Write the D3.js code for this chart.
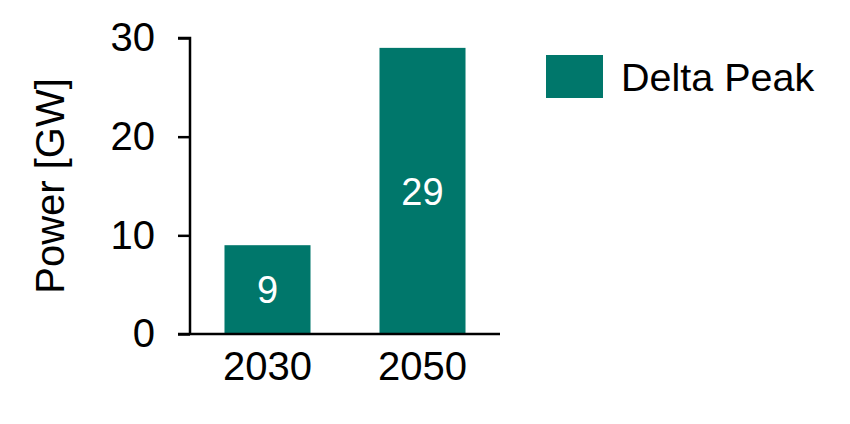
<!DOCTYPE html>
<html>
<head>
<meta charset="utf-8">
<script src="https://cdn.jsdelivr.net/npm/d3@7"></script>
<style>
  html, body { margin: 0; padding: 0; background: #fff; }
  svg { display: block; font-family: Arial, "Liberation Sans", sans-serif; }
</style>
</head>
<body>
<svg id="chart" width="850" height="424"></svg>
<script>
const categories = ["2030", "2050"];
const values = [9, 29];
const seriesName = "Delta Peak";
const yTicks = [0, 10, 20, 30];

const color = "#00776B";
const svg = d3.select("#chart");

const plot = { left: 190, right: 500, top: 38, bottom: 334 };

const x = d3.scaleBand()
  .domain(categories)
  .range([plot.left, plot.right])
  .paddingInner(0.445)
  .paddingOuter(0.2225);

const y = d3.scaleLinear()
  .domain([0, 30])
  .range([plot.bottom, plot.top]);

// bars
svg.append("g").selectAll("rect")
  .data(categories)
  .join("rect")
  .attr("x", d => x(d))
  .attr("width", x.bandwidth())
  .attr("y", (d, i) => y(values[i]))
  .attr("height", (d, i) => y(0) - y(values[i]))
  .attr("fill", color);

// data labels
svg.append("g").selectAll("text")
  .data(categories)
  .join("text")
  .attr("x", d => x(d) + x.bandwidth() / 2)
  .attr("y", (d, i) => (y(values[i]) + y(0)) / 2)
  .attr("dy", "0.36em")
  .attr("text-anchor", "middle")
  .attr("fill", "#fff")
  .attr("font-size", 38)
  .text((d, i) => values[i]);

// y axis
const yAxis = d3.axisLeft(y).tickValues(yTicks).tickSize(12).tickPadding(23);
const gy = svg.append("g").attr("transform", `translate(${plot.left},0)`).call(yAxis);
gy.select(".domain").attr("d", `M-12,${plot.top}H0V${plot.bottom}`).attr("stroke", "#000").attr("stroke-width", 2.5);
gy.selectAll(".tick line").attr("stroke", "#000").attr("stroke-width", 2.5);
gy.selectAll(".tick text").attr("font-size", 40).attr("fill", "#000").attr("font-family", "Arial, 'Liberation Sans', sans-serif");

// x axis
const xAxis = d3.axisBottom(x).tickSize(0).tickPadding(18);
const gx = svg.append("g").attr("transform", `translate(0,${plot.bottom})`).call(xAxis);
gx.select(".domain").attr("d", `M${plot.left - 12},0H${plot.right}`).attr("stroke", "#000").attr("stroke-width", 2.5);
gx.selectAll(".tick text").attr("font-size", 40).attr("fill", "#000").attr("font-family", "Arial, 'Liberation Sans', sans-serif");

// y title
svg.append("text")
  .attr("transform", `translate(64,${(plot.top + plot.bottom) / 2}) rotate(-90)`)
  .attr("text-anchor", "middle")
  .attr("font-size", 40)
  .attr("fill", "#000")
  .text("Power [GW]");

// legend
const lg = svg.append("g").attr("transform", "translate(546,55)");
lg.append("rect").attr("width", 57).attr("height", 43).attr("fill", color);
lg.append("text").attr("x", 75).attr("y", 36).attr("font-size", 39.5).attr("fill", "#000").text(seriesName);
</script>
</body>
</html>
